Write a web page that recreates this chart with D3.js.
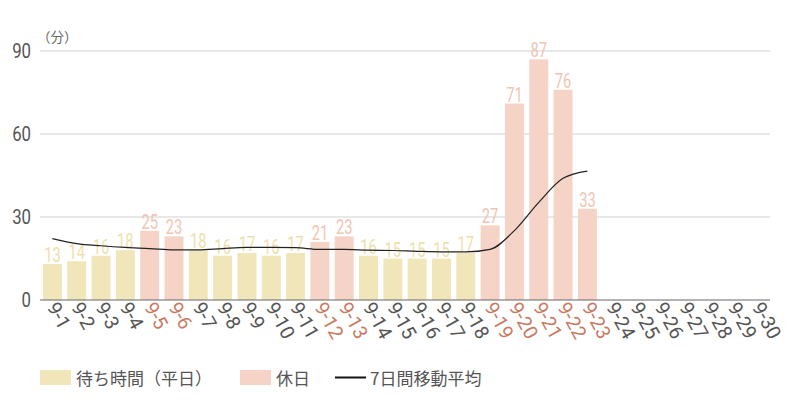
<!DOCTYPE html>
<html>
<head>
<meta charset="utf-8">
<script src="https://cdn.jsdelivr.net/npm/d3@7"></script>
<style>
  body { margin: 0; background: #fff; }
  svg { display: block; }
</style>
</head>
<body>
<svg id="chart" width="800" height="400"></svg>
<script>
const days = d3.range(1, 31).map((d) => `9-${d}`);
const holidays = ['9-5', '9-6', '9-12', '9-13', '9-19', '9-20', '9-21', '9-22', '9-23'];
const waitValues = [13, 14, 16, 18, 25, 23, 18, 16, 17, 16, 17, 21, 23, 16, 15, 15, 15, 17, 27, 71, 87, 76, 33];
const movingAvg = [22.2, 20.4, 19.6, 19.0, 18.6, 18.1, 18.1, 18.6, 19.0, 19.0, 18.9, 18.3, 18.3, 18.0, 17.9, 17.6, 17.4, 17.4, 18.3, 25.1, 35.3, 44.0, 46.6];
const yTicks = [0, 30, 60, 90];
const legendLabels = ['待ち時間（平日）', '休日', '7日間移動平均'];

const WEEKDAY_COLOR = '#f1e6b9';
const HOLIDAY_COLOR = '#f5d4c7';
const WEEKDAY_LABEL = '#eee0aa';
const HOLIDAY_LABEL = '#f0c5b3';
const CJK = '"Noto Sans CJK JP", sans-serif';

const svg = d3.select('#chart');

const x = d3.scaleBand().domain(days).range([40, 770]).paddingInner(0.22).paddingOuter(0.12);
const y = d3.scaleLinear().domain([0, 90]).range([300, 51]);

const isHoliday = (d) => holidays.includes(d);

// grid
svg.append('g')
  .selectAll('line')
  .data(yTicks.filter((t) => t > 0))
  .enter()
  .append('line')
  .attr('x1', 40)
  .attr('x2', 770)
  .attr('y1', (d) => y(d))
  .attr('y2', (d) => y(d))
  .attr('stroke', '#d2d2d2')
  .attr('stroke-width', 1.2);

// y tick labels, squeezed to look condensed
svg.append('g')
  .selectAll('text')
  .data(yTicks)
  .enter()
  .append('text')
  .attr('transform', (d) => `translate(31,${y(d) + 7}) scale(0.8,1)`)
  .attr('text-anchor', 'end')
  .attr('font-family', 'Roboto, sans-serif')
  .attr('font-size', 21)
  .attr('fill', '#555')
  .text((d) => d);

svg.append('text')
  .attr('x', 37)
  .attr('y', 42)
  .attr('font-family', CJK)
  .attr('font-size', 13.5)
  .attr('fill', '#666')
  .text('（分）');

const barData = waitValues.map((v, i) => ({ day: days[i], value: v }));

svg.append('g')
  .selectAll('rect')
  .data(barData)
  .enter()
  .append('rect')
  .attr('x', (d) => x(d.day))
  .attr('y', (d) => y(d.value))
  .attr('width', x.bandwidth())
  .attr('height', (d) => y(0) - y(d.value))
  .attr('fill', (d) => (isHoliday(d.day) ? HOLIDAY_COLOR : WEEKDAY_COLOR));

svg.append('g')
  .selectAll('text')
  .data(barData)
  .enter()
  .append('text')
  .attr('transform', (d) => `translate(${x(d.day) + x.bandwidth() / 2},${y(d.value) - 2}) scale(0.7,1)`)
  .attr('text-anchor', 'middle')
  .attr('font-family', 'Roboto, sans-serif')
  .attr('font-size', 21)
  .attr('fill', (d) => (isHoliday(d.day) ? HOLIDAY_LABEL : WEEKDAY_LABEL))
  .text((d) => d.value);

// axis line at 0
svg.append('line')
  .attr('x1', 40)
  .attr('x2', 770)
  .attr('y1', y(0))
  .attr('y2', y(0))
  .attr('stroke', '#666')
  .attr('stroke-width', 1.2);

// moving average
const line = d3.line()
  .x((d, i) => x(days[i]) + x.bandwidth() / 2)
  .y((d) => y(d))
  .curve(d3.curveMonotoneX);

svg.append('path')
  .datum(movingAvg)
  .attr('d', line)
  .attr('fill', 'none')
  .attr('stroke', '#222')
  .attr('stroke-width', 1.2);

// x labels
svg.append('g')
  .selectAll('text')
  .data(days)
  .enter()
  .append('text')
  .attr('transform', (d) => `translate(${x(d) + x.bandwidth() / 2 - 6},${y(0) + 7}) rotate(61)`)
  .attr('font-family', 'Roboto, sans-serif')
  .attr('font-size', 19.5)
  .attr('fill', (d) => (isHoliday(d) ? '#c97a62' : '#555'))
  .text((d) => d);

// legend
const legend = svg.append('g').attr('transform', 'translate(40, 378)');

legend.append('rect').attr('x', 0).attr('y', -8).attr('width', 31).attr('height', 15).attr('fill', WEEKDAY_COLOR);
legend.append('text').attr('x', 36).attr('y', 7).attr('font-family', CJK).attr('font-size', 17).attr('fill', '#555').text(legendLabels[0]);

legend.append('rect').attr('x', 200).attr('y', -8).attr('width', 31).attr('height', 15).attr('fill', HOLIDAY_COLOR);
legend.append('text').attr('x', 236).attr('y', 7).attr('font-family', CJK).attr('font-size', 17).attr('fill', '#555').text(legendLabels[1]);

legend.append('line').attr('x1', 295).attr('x2', 326).attr('y1', -0.5).attr('y2', -0.5).attr('stroke', '#111').attr('stroke-width', 2);
legend.append('text').attr('x', 330).attr('y', 7).attr('font-family', CJK).attr('font-size', 17).attr('fill', '#555').text(legendLabels[2]);
</script>
</body>
</html>
